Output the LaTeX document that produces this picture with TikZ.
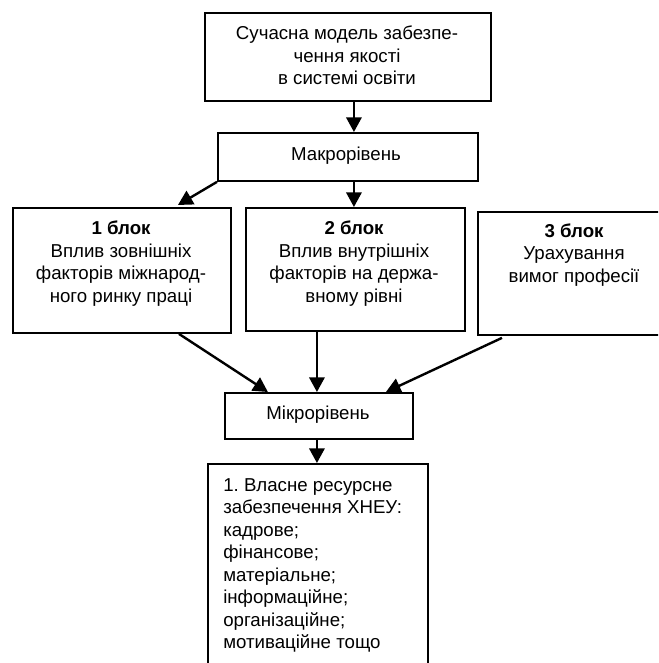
\documentclass[tikz,border=0pt]{standalone}
\usepackage{fontspec}
\setmainfont{Liberation Sans}
\usetikzlibrary{arrows.meta}
\frenchspacing
\newcommand\px{0.75pt}
\tikzset{
  box/.style={draw, line width=1.4pt, rectangle, inner sep=0pt, anchor=north west},
  txt/.style={font=\fontsize{14pt}{16.9pt}\selectfont, inner sep=0pt, align=center},
  arr/.style={line width=1.8pt, -{Triangle[length=11pt,width=11.5pt]}}
}
\begin{document}
\begin{tikzpicture}[x=0.75pt,y=-0.75pt]
\useasboundingbox (0,0) rectangle (658,663);
\clip (0,0) rectangle (658,663);
% boxes
\node[box, minimum width=286*\px, minimum height=88*\px] (top) at (204,12) {};
\node[box, minimum width=260*\px, minimum height=48*\px] (macro) at (217,132) {};
\node[box, minimum width=218*\px, minimum height=125*\px] (b1) at (12,207) {};
\node[box, minimum width=219*\px, minimum height=123*\px] (b2) at (245,207) {};
\node[box, minimum width=194*\px, minimum height=123*\px] (b3) at (477,211) {};
\node[box, minimum width=188*\px, minimum height=46*\px] (micro) at (224,392) {};
\node[box, minimum width=220*\px, minimum height=230*\px] (res) at (207,463) {};
% texts
\node[txt] (ttop) at (347,55.5) {Сучасна модель забезпе-\\чення якості\\в системі освіти};
\node[txt] (tmacro) at (346,156) {Макрорівень};
\node[txt] (tb1) at (121,263.5) {\textbf{1 блок}\\Вплив зовнішніх\\факторів міжнарод-\\ного ринку праці};
\node[txt] (tb2) at (354,263.5) {\textbf{2 блок}\\Вплив внутрішніх\\факторів на держа-\\вному рівні};
\node[txt] (tb3) at (574,255) {\textbf{3 блок}\\Урахування\\вимог професії};
\node[txt] (tmicro) at (318,415) {Мікрорівень};
\node[txt, align=left, anchor=north west] (tres) at (223,478) {\frenchspacing 1. Власне ресурсне\\забезпечення ХНЕУ:\\кадрове;\\фінансове;\\матеріальне;\\інформаційне;\\організаційне;\\мотиваційне тощо};
% connectors
\draw[arr] ([xshift=6*\px]top.south) -- ([xshift=6*\px]macro.north);
\draw[arr] (macro.south west) -- ([xshift=56*\px,yshift=2*\px]b1.north);
\draw[arr] ([xshift=6*\px]macro.south) -- ([xshift=-1.5*\px]b2.north);
\draw[arr] ([xshift=57*\px]b1.south) -- ([xshift=-51*\px]micro.north);
\draw[arr] ([xshift=-38.5*\px]b2.south) -- ([xshift=-2*\px]micro.north);
\draw[arr] ([xshift=25*\px,yshift=-2*\px]b3.south west) -- ([xshift=67*\px]micro.north);
\draw[arr] ([xshift=-2*\px]micro.south) -- ([xshift=-1*\px]res.north);
\end{tikzpicture}
\end{document}
